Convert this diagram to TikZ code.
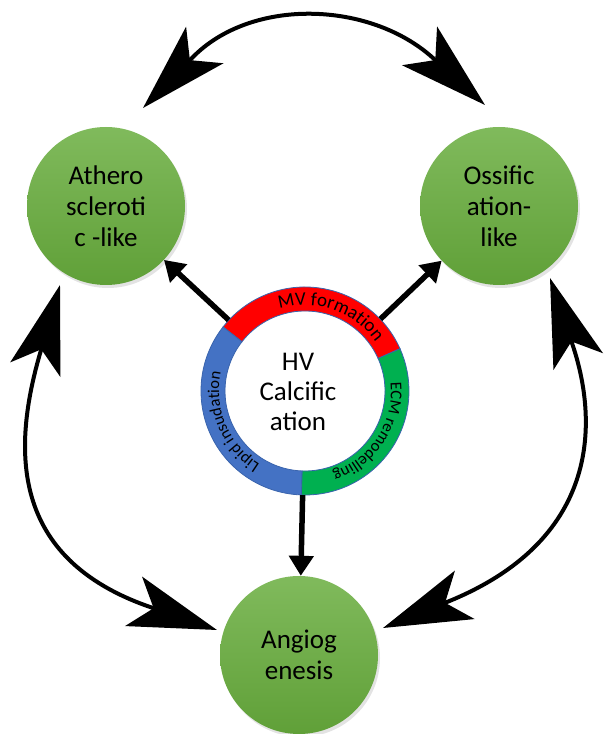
\documentclass[tikz,border=0pt]{standalone}
\usepackage{fontspec}
\setmainfont{Carlito}
\usetikzlibrary{arrows.meta,decorations.text,calc,shadows}
\definecolor{ringred}{HTML}{FF0000}
\definecolor{ringgreen}{HTML}{00B050}
\definecolor{ringblue}{HTML}{4472C4}
\definecolor{ringedge}{HTML}{3A64AD}
\definecolor{balltop}{RGB}{128,186,92}
\definecolor{ballbot}{RGB}{96,160,56}
\newcommand\ringseg[3]{%
  \filldraw[fill=#3, draw=ringedge, line width=0.8pt]
    ($(c)+(#1:104)$) arc[start angle=#1, end angle=#2, radius=104]
    -- ($(c)+(#2:80)$) arc[start angle=#2, end angle=#1, radius=80] -- cycle;}
\begin{document}
\begin{tikzpicture}[x=1pt,y=1pt,
  ball/.style={circle, minimum size=158pt, inner sep=0pt, top color=balltop,
    bottom color=ballbot, align=center, font=\fontsize{27}{31}\selectfont,
    drop shadow={opacity=0.22, shadow xshift=2pt, shadow yshift=-3pt}},
  feed/.style={line width=5.5pt, -{Triangle[length=20pt,width=24pt]}},
  swing/.style={line width=4pt,
    {Stealth[length=88pt,width=52pt,inset=21pt]}-{Stealth[length=88pt,width=52pt,inset=21pt]}},
  ringtext/.style={decorate, decoration={text along path, text align=center, text={#1}}}
]
\useasboundingbox (0,0) rectangle (605,734);

% green circles
\node[ball] (ath) at (106,528) {Athero\\scleroti\\c -like};
\node[ball] (oss) at (499,528) {Ossific\\ation-\\like};
\node[ball] (ang) at (299,79) {Angiog\\enesis};

% curved double arrows
\coordinate (tA1) at (143,626); \coordinate (jA1) at (192,676);
\coordinate (jA2) at (433,676); \coordinate (tA2) at (485,629);
\draw[swing] (tA1) -- (jA1) .. controls (251,737) and (370,733) .. (jA2) -- (tA2);

\coordinate (tL1) at (60,449); \coordinate (jL1) at (40.4,381.8);
\coordinate (jL2) at (150.8,126.75); \coordinate (tL2) at (217,104);
\draw[swing] (tL1) -- (jL1) .. controls (12.4,285.8) and (8.9,175.5) .. (jL2) -- (tL2);

\coordinate (tR1) at (550,456); \coordinate (jR1) at (572.4,389.7);
\coordinate (jR2) at (447.8,132.3); \coordinate (tR2) at (383,106);
\draw[swing] (tR1) -- (jR1) .. controls (596.4,318.7) and (605.2,196.2) .. (jR2) -- (tR2);

% ring
\coordinate (c) at (305,343);
\node[circle, minimum size=208pt, inner sep=0pt] (ring) at (c) {};
\ringseg{24}{142}{ringred}
\ringseg{142}{268}{ringblue}
\ringseg{268}{384}{ringgreen}

\path[ringtext={|\fontsize{19}{19}\selectfont|MV formation}]
  ($(c)+(150:86)$) arc[start angle=150, end angle=-8, radius=86];
\path[ringtext={|\fontsize{16.5}{16.5}\selectfont|ECM remodelling}]
  ($(c)+(40:86)$) arc[start angle=40, end angle=-106, radius=86];
\path[ringtext={|\fontsize{16.5}{16.5}\selectfont|Lipid insudation}]
  ($(c)+(280:86)$) arc[start angle=280, end angle=126, radius=86];

\node[align=center, font=\fontsize{27}{30}\selectfont] (hv) at (298,342) {HV\\Calcific\\ation};

% straight arrows
\draw[feed] (ring) -- (ath);
\draw[feed] (ring) -- (oss);
\draw[feed] (ring) -- (ang);
\end{tikzpicture}
\end{document}
